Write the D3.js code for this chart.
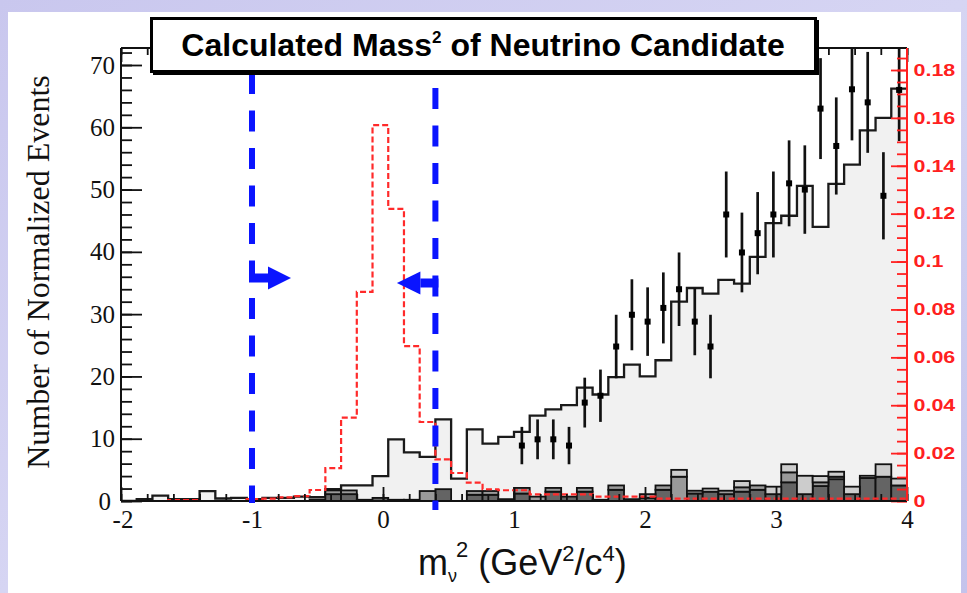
<!DOCTYPE html>
<html>
<head>
<meta charset="utf-8">
<script src="https://cdn.jsdelivr.net/npm/d3@7"></script>
<style>
  html, body { margin: 0; padding: 0; }
  body { width: 967px; height: 593px; overflow: hidden; }
  svg { display: block; }
</style>
</head>
<body>
<svg id="chart" width="967" height="593"></svg>
<script>
// ---- binning: 50 bins of 0.12 GeV^2/c^4 from -2 to 4 ----
const nBins = 50;
const xMin = -2, xMax = 4;
const binWidth = (xMax - xMin) / nBins;
const binLow = d3.range(nBins).map(i => xMin + i * binWidth);

// Background MC total (normalized events, left axis)
const mcTotal = [
  0.0, 0.3, 0.85, 0.3, 0.3, 1.6, 0.4, 0.5, 0.3, 0.5,
  0.5, 0.7, 0.6, 1.9, 2.5, 2.5, 4.0, 9.9, 7.8, 7.1,
  13.1, 3.6, 11.5, 9.2, 10.3, 11.1, 13.7, 14.7, 15.4, 18.2,
  17.1, 19.9, 21.9, 20.0, 22.6, 32.0, 34.2, 33.3, 35.5, 34.9,
  39.2, 44.6, 45.8, 50.6, 44.0, 50.9, 54.0, 59.5, 61.5, 66.2
];

// Stacked background components (dark / mid / light)
const bgDark = [
  0, 0, 0, 0, 0, 0, 0, 0, 0, 0,
  0, 0, 0.2, 1.1, 1.1, 0.2, 0.5, 0.2, 0.2, 0,
  1.9, 0, 1.0, 1.0, 0.3, 1.2, 0, 1.5, 0.7, 1.5,
  0.2, 1.8, 0.3, 0.5, 1.8, 0, 1.2, 1.5, 1.1, 1.5,
  1.8, 1.1, 3.0, 1.1, 2.4, 3.5, 1.1, 3.7, 3.9, 2.5
];
const bgMid = [
  0, 0, 0, 0, 0, 0, 0, 0, 0, 0,
  0, 0, 0, 0.6, 0.6, 0, 0, 0, 0, 1.6,
  0, 0, 0.6, 0.6, 0, 0.9, 0.7, 0.6, 0, 0.6,
  0, 0.7, 0, 0.6, 0.7, 3.9, 0.45, 0, 0.55, 0.7,
  0.7, 0, 1.6, 0, 0.6, 0.4, 0, 0, 0, 0
];
const bgLight = [
  0, 0, 0, 0, 0, 0, 0, 0, 0, 0,
  0, 0, 0, 0, 0, 0, 0, 0, 0, 0,
  0, 0, 0, 0, 0, 0, 0, 0, 0, 0,
  0, 0, 0, 0, 0, 1.1, 0, 0.5, 0, 1.0,
  0, 1.2, 1.3, 2.95, 1.0, 0.8, 1.2, 0.35, 2.0, 1.1
];

// Signal MC shape (right axis)
const signal = [
  0, 0, 0, 0.0004, 0.0004, 0, 0, 0, 0.0008, 0.001,
  0.0015, 0.002, 0.0046, 0.0137, 0.0348, 0.0873, 0.157, 0.122, 0.0647, 0.033,
  0.0174, 0.0117, 0.0077, 0.0049, 0.0045, 0.0045, 0.0028, 0.0028, 0.0028, 0.0028,
  0.0018, 0.0018, 0.0018, 0.0018, 0.001, 0.001, 0.001, 0.001, 0.001, 0.001,
  0.001, 0.001, 0.001, 0.001, 0.001, 0.001, 0.001, 0.001, 0.001, 0.001
];

// Data points (bin index, value, error)
const dataBins = [25, 26, 27, 28, 29, 30, 31, 32, 33, 34, 35, 36, 37,
                  38, 39, 40, 41, 42, 43, 44, 45, 46, 47, 48, 49];
const dataVals = [8.9, 9.9, 9.9, 8.9, 15.8, 16.9, 24.8, 29.9, 28.8, 31.0, 34.0, 28.8, 24.8,
                  46.0, 39.9, 43.0, 46.0, 51.0, 50.0, 63.0, 57.0, 66.1, 64.0, 49.0, 66.0];
const dataErrs = [3.0, 3.2, 3.2, 3.0, 4.0, 4.2, 5.1, 5.7, 5.5, 5.7, 5.9, 5.4, 5.1,
                  6.9, 6.4, 6.6, 6.9, 6.9, 7.1, 8.1, 7.8, 8.2, 8.1, 7.0, 8.2];

// Selection cuts on m_nu^2
const cutValues = [-1.0, 0.4];

// Tick values and labels
const xTickVals = [-2, -1, 0, 1, 2, 3, 4];
const xTickLabels = ["-2", "-1", "0", "1", "2", "3", "4"];
const yTickVals = [0, 10, 20, 30, 40, 50, 60, 70];
const yTickLabels = ["0", "10", "20", "30", "40", "50", "60", "70"];
const rTickVals = [0, 0.02, 0.04, 0.06, 0.08, 0.1, 0.12, 0.14, 0.16, 0.18];
const rTickLabels = ["0", "0.02", "0.04", "0.06", "0.08", "0.1", "0.12", "0.14", "0.16", "0.18"];

const titleText = "Calculated Mass";
const titleRest = " of Neutrino Candidate";
const yTitle = "Number of Normalized Events";

// ---- layout ----
const W = 967, H = 593;
const plot = { left: 121, right: 907, top: 48, bottom: 501 };

const svg = d3.select("#chart");

// slide background
const defs = svg.append("defs");
const grad = defs.append("linearGradient").attr("id", "slideBg")
  .attr("x1", "0").attr("y1", "0").attr("x2", "1").attr("y2", "1");
grad.append("stop").attr("offset", "0%").attr("stop-color", "#c9c7ee");
grad.append("stop").attr("offset", "50%").attr("stop-color", "#d6d5f3");
grad.append("stop").attr("offset", "100%").attr("stop-color", "#c4c3ec");
svg.append("rect").attr("width", W).attr("height", H).attr("fill", "url(#slideBg)");
svg.append("rect").attr("x", 8).attr("y", 12).attr("width", 953).attr("height", H - 12).attr("fill", "#ffffff");

defs.append("clipPath").attr("id", "plotClip")
  .append("rect").attr("x", plot.left).attr("y", plot.top)
  .attr("width", plot.right - plot.left).attr("height", plot.bottom - plot.top);

const x = d3.scaleLinear().domain([xMin, xMax]).range([plot.left, plot.right]);
const y = d3.scaleLinear().domain([0, 70]).range([plot.bottom, 65]);
const yR = d3.scaleLinear().domain([0, 0.18]).range([plot.bottom, 70]);

const g = svg.append("g").attr("clip-path", "url(#plotClip)");

// Histogram step points: (edge, value) pairs for a step-after curve
function stepPoints(vals) {
  const pts = vals.map((v, i) => [binLow[i], v]);
  pts.push([xMax, vals[vals.length - 1]]);
  return pts;
}

// total background MC: filled light grey with black outline
const mcPts = stepPoints(mcTotal);
g.append("path")
  .attr("d", d3.area().curve(d3.curveStepAfter)
    .x(d => x(d[0])).y0(y(0)).y1(d => y(d[1]))(mcPts))
  .attr("fill", "#f1f1f1");
g.append("path")
  .attr("d", d3.line().curve(d3.curveStepAfter)
    .x(d => x(d[0])).y(d => y(d[1]))([[xMin, 0]].concat(mcPts)))
  .attr("fill", "none").attr("stroke", "#1a1a1a").attr("stroke-width", 2.3);

// stacked components at the bottom
const layers = [
  { vals: bgDark, fill: "#646464" },
  { vals: bgMid, fill: "#9a9a9a" },
  { vals: bgLight, fill: "#cccccc" }
];
const stackG = g.append("g");
layers.forEach((layer, li) => {
  layer.vals.forEach((v, i) => {
    if (v <= 0) return;
    let base = 0;
    for (let k = 0; k < li; k++) base += layers[k].vals[i];
    stackG.append("rect")
      .attr("x", x(binLow[i]))
      .attr("y", y(base + v))
      .attr("width", x(binLow[i] + binWidth) - x(binLow[i]))
      .attr("height", y(base) - y(base + v))
      .attr("fill", layer.fill)
      .attr("stroke", "#111").attr("stroke-width", 1.8);
  });
});

// signal shape: red dashed step line on the right axis
g.append("path")
  .attr("d", d3.line().curve(d3.curveStepAfter)
    .x(d => x(d[0])).y(d => yR(d[1]))(stepPoints(signal)))
  .attr("fill", "none").attr("stroke", "#ff2a2a").attr("stroke-width", 2.2)
  .attr("stroke-dasharray", "6,3");

// data points with error bars
const pts = dataBins.map((b, i) => ({
  cx: binLow[b] + binWidth / 2, v: dataVals[i], e: dataErrs[i]
}));
const dg = g.append("g");
dg.selectAll("line.err").data(pts).join("line")
  .attr("class", "err")
  .attr("x1", d => x(d.cx)).attr("x2", d => x(d.cx))
  .attr("y1", d => y(d.v + d.e)).attr("y2", d => y(d.v - d.e))
  .attr("stroke", "#111").attr("stroke-width", 2.7);
dg.selectAll("rect.pt").data(pts).join("rect")
  .attr("class", "pt")
  .attr("x", d => x(d.cx) - 3).attr("y", d => y(d.v) - 3)
  .attr("width", 6).attr("height", 6).attr("fill", "#000");

// ---- axes ----
const axisStyle = sel => {
  sel.selectAll("path.domain").remove();
};

// bottom axis
svg.append("g").attr("transform", `translate(0,${plot.bottom})`)
  .call(d3.axisBottom(x).tickValues(d3.range(-2, 4.001, 0.2)).tickSize(-7).tickFormat(""))
  .call(axisStyle)
  .selectAll("line").attr("stroke", "#111").attr("stroke-width", 1.8);
const xb = svg.append("g").attr("transform", `translate(0,${plot.bottom})`)
  .call(d3.axisBottom(x).tickValues(xTickVals).tickSize(-14).tickPadding(9)
    .tickFormat((d, i) => xTickLabels[i]))
  .call(axisStyle);
xb.selectAll("line").attr("stroke", "#111").attr("stroke-width", 1.8);
xb.selectAll("text").attr("font-family", "Liberation Serif, Times New Roman, serif")
  .attr("font-size", 25).attr("fill", "#111")
  .attr("dx", d => d === xMin ? 1.5 : 0);

// top axis (ticks only)
svg.append("g").attr("transform", `translate(0,${plot.top})`)
  .call(d3.axisTop(x).tickValues(d3.range(-2, 4.001, 0.2)).tickSize(-7).tickFormat(""))
  .call(axisStyle)
  .selectAll("line").attr("stroke", "#111").attr("stroke-width", 1.8);
svg.append("g").attr("transform", `translate(0,${plot.top})`)
  .call(d3.axisTop(x).tickValues(xTickVals).tickSize(-14).tickFormat(""))
  .call(axisStyle)
  .selectAll("line").attr("stroke", "#111").attr("stroke-width", 1.8);

// left axis
svg.append("g").attr("transform", `translate(${plot.left},0)`)
  .call(d3.axisLeft(y).tickValues(d3.range(0, 72.01, 2)).tickSize(-11).tickFormat(""))
  .call(axisStyle)
  .selectAll("line").attr("stroke", "#111").attr("stroke-width", 1.8);
const yl = svg.append("g").attr("transform", `translate(${plot.left},0)`)
  .call(d3.axisLeft(y).tickValues(yTickVals).tickSize(-21).tickPadding(6)
    .tickFormat((d, i) => yTickLabels[i]))
  .call(axisStyle);
yl.selectAll("line").attr("stroke", "#111").attr("stroke-width", 1.8);
// the zero label sits a little further left so it clears the "-2" below it
yl.selectAll("text").attr("font-family", "Liberation Serif, Times New Roman, serif")
  .attr("font-size", 25).attr("fill", "#111")
  .attr("dx", d => d === 0 ? -4 : 0);

// right axis (signal scale, red)
svg.append("g").attr("transform", `translate(${plot.right},0)`)
  .call(d3.axisRight(yR).tickValues(d3.range(0, 0.1851, 0.005)).tickSize(-10).tickFormat(""))
  .call(axisStyle)
  .selectAll("line").attr("stroke", "#ff2020").attr("stroke-width", 1.8);
const yr = svg.append("g").attr("transform", `translate(${plot.right},0)`)
  .call(d3.axisRight(yR).tickValues(rTickVals).tickSize(-16).tickPadding(5)
    .tickFormat((d, i) => rTickLabels[i]))
  .call(axisStyle);
yr.selectAll("line").attr("stroke", "#ff2020").attr("stroke-width", 1.8);
yr.selectAll("text").attr("font-family", "Liberation Sans, Arial, sans-serif")
  .attr("font-size", 16.5).attr("font-weight", "bold").attr("fill", "#ff2020")
  .attr("transform", "scale(1.3,1)");

// frame
svg.append("line").attr("x1", plot.left).attr("x2", plot.right)
  .attr("y1", plot.top).attr("y2", plot.top).attr("stroke", "#111").attr("stroke-width", 2);
svg.append("line").attr("x1", plot.left).attr("x2", plot.right)
  .attr("y1", plot.bottom).attr("y2", plot.bottom).attr("stroke", "#111").attr("stroke-width", 2);
svg.append("line").attr("x1", plot.left).attr("x2", plot.left)
  .attr("y1", plot.top).attr("y2", plot.bottom).attr("stroke", "#111").attr("stroke-width", 2);
svg.append("line").attr("x1", plot.right).attr("x2", plot.right)
  .attr("y1", plot.top).attr("y2", plot.bottom).attr("stroke", "#ff2020").attr("stroke-width", 2);

// ---- cut lines and arrows ----
const blue = "#0a14ff";
const cutG = svg.append("g");
const cutSpans = [[73, 503], [88, 510]];
cutValues.forEach((c, i) => {
  cutG.append("line")
    .attr("x1", x(c)).attr("x2", x(c))
    .attr("y1", cutSpans[i][0]).attr("y2", cutSpans[i][1])
    .attr("stroke", blue).attr("stroke-width", 6)
    .attr("stroke-dasharray", "21,16.5");
});
// arrow pointing right from the lower cut
{
  const cx = x(cutValues[0]), cy = 278;
  cutG.append("rect").attr("x", cx - 3).attr("y", cy - 4.5).attr("width", 19).attr("height", 9).attr("fill", blue);
  cutG.append("polygon").attr("fill", blue)
    .attr("points", `${cx + 16},${cy - 11.5} ${cx + 39},${cy} ${cx + 16},${cy + 11.5}`);
}
// arrow pointing left from the upper cut
{
  const cx = x(cutValues[1]), cy = 283;
  cutG.append("rect").attr("x", cx - 15).attr("y", cy - 4.5).attr("width", 18).attr("height", 9).attr("fill", blue);
  cutG.append("polygon").attr("fill", blue)
    .attr("points", `${cx - 15},${cy - 11.5} ${cx - 38.5},${cy} ${cx - 15},${cy + 11.5}`);
}

// ---- title box ----
svg.append("rect").attr("x", 153).attr("y", 20).attr("width", 666).attr("height", 55).attr("fill", "#000");
svg.append("rect").attr("x", 151.5).attr("y", 18.5).attr("width", 664).attr("height", 53)
  .attr("fill", "#fff").attr("stroke", "#000").attr("stroke-width", 3);
const tt = svg.append("text").attr("x", 483).attr("y", 56)
  .attr("text-anchor", "middle")
  .attr("font-family", "Liberation Sans, Arial, sans-serif")
  .attr("font-weight", "bold").attr("font-size", 32).attr("fill", "#000");
tt.append("tspan").text(titleText);
tt.append("tspan").attr("font-size", 17).attr("dy", -13).text("2");
tt.append("tspan").attr("dy", 13).text(titleRest);

// ---- axis titles ----
svg.append("text")
  .attr("transform", "translate(49,272) rotate(-90)")
  .attr("text-anchor", "middle")
  .attr("font-family", "Liberation Serif, Times New Roman, serif")
  .attr("font-size", 32).attr("fill", "#111")
  .text(yTitle);

const xt = svg.append("text").attr("x", 418).attr("y", 575)
  .attr("font-family", "Liberation Sans, Arial, sans-serif")
  .attr("font-size", 36).attr("fill", "#111");
xt.append("tspan").text("m");
xt.append("tspan").attr("font-size", 18).attr("dy", 7).text("ν");
xt.append("tspan").attr("font-size", 22).attr("dx", -1).attr("dy", -25).text("2");
xt.append("tspan").attr("dy", 18).text(" (GeV");
xt.append("tspan").attr("font-size", 22).attr("dy", -14).text("2");
xt.append("tspan").attr("dy", 14).text("/c");
xt.append("tspan").attr("font-size", 22).attr("dy", -14).text("4");
xt.append("tspan").attr("dy", 14).text(")");
</script>
</body>
</html>
